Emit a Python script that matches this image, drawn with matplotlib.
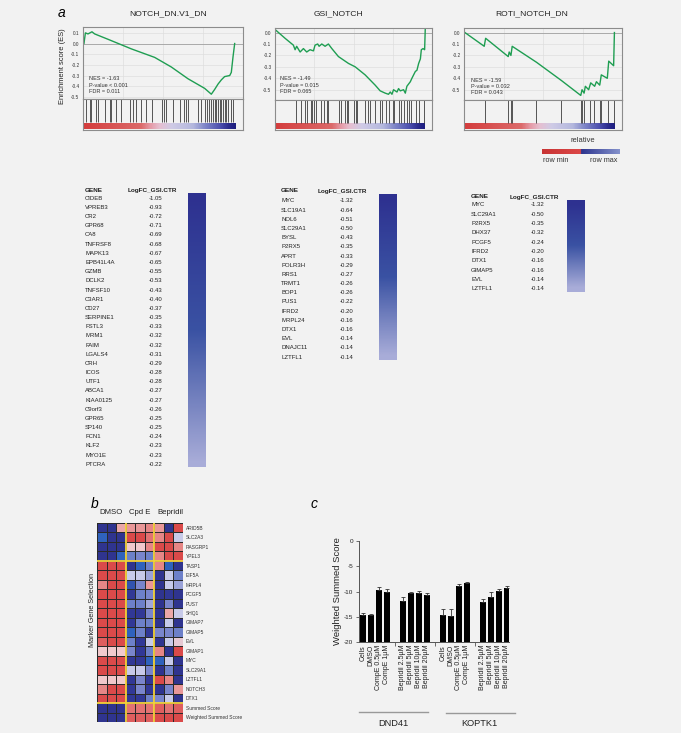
import numpy as np
import matplotlib
matplotlib.use('Agg')
import matplotlib.pyplot as plt
from matplotlib.colors import LinearSegmentedColormap
from matplotlib.lines import Line2D

plt.rcParams['font.family'] = ['Liberation Sans', 'DejaVu Sans']

W, H = 681, 733
BG = '#f2f2f2'

# ---------------- data: panel a (GSEA) ----------------
gsea_titles = ['NOTCH_DN.V1_DN', 'GSI_NOTCH', 'ROTI_NOTCH_DN']
gsea_stats1 = ['NES = -1.63', 'P-value < 0.001', 'FDR = 0.011']
gsea_stats2 = ['NES = -1.49', 'P-value = 0.015', 'FDR = 0.065']
gsea_stats3 = ['NES = -1.59', 'P-value = 0.032', 'FDR = 0.043']

# running enrichment score (x = % of ranked list, y = ES)
es1_x = [0.6, 1.5, 3.1, 5.6, 7.3, 15.6, 30.2, 44.8, 55.2, 65.6, 76.0, 80.2,
         82.3, 84.4, 86.5, 88.5, 91.7, 92.7, 93.8, 94.8]
es1_y = [0.0, 0.10, 0.09, 0.11, 0.09, 0.04, -0.05, -0.13, -0.22, -0.33, -0.42, -0.475,
         -0.43, -0.38, -0.34, -0.31, -0.30, -0.27, -0.12, 0.0]
hits1 = [2.1, 4.2, 4.8, 8.3, 9.4, 13.5, 16.7, 17.7, 20.8, 23.5, 29.2, 31.3, 33.3, 36.0,
         39.6, 43.1, 49.4, 50.6, 52.1, 56.3, 60.4, 63.1, 64.6, 65.6, 71.9, 74.0, 76.0,
         77.7, 78.5, 79.8, 81.3, 82.3, 83.3, 84.4, 85.4, 86.5, 87.5, 88.5, 89.6, 90.6,
         92.7, 93.8]

es2_x = [0.6, 6.4, 11.7, 12.8, 13.8, 16.0, 18.1, 20.2, 22.3, 24.5, 25.5, 27.2, 28.1,
         29.8, 31.9, 34.0, 36.2, 40.4, 43.6, 46.8, 51.1, 57.4, 63.8, 67.0, 70.2, 72.3,
         73.4, 74.5, 75.5, 77.7, 78.7, 79.8, 81.9, 83.0, 84.0, 86.2, 87.2, 88.3, 89.4,
         90.4, 91.5, 92.6, 93.2, 94.3, 95.3, 95.7]
es2_y = [0.02, -0.05, -0.11, -0.15, -0.12, -0.17, -0.14, -0.17, -0.15, -0.16, -0.11,
         -0.10, -0.12, -0.10, -0.12, -0.10, -0.14, -0.21, -0.24, -0.27, -0.30, -0.37,
         -0.46, -0.51, -0.53, -0.54, -0.52, -0.54, -0.50, -0.52, -0.49, -0.51, -0.50,
         -0.53, -0.47, -0.43, -0.40, -0.37, -0.34, -0.33, -0.27, -0.23, -0.15, -0.14,
         -0.15, 0.03]
hits2 = [13.4, 16.4, 19.1, 20.2, 23.0, 23.8, 24.9, 26.0, 29.4, 30.9, 33.0, 34.0, 40.9,
         42.1, 44.7, 45.7, 46.4, 50.6, 51.5, 52.1, 57.4, 59.1, 60.2, 63.8, 67.0, 68.1,
         70.6, 72.8, 74.9, 75.5, 78.7, 80.4, 81.9, 84.0, 85.1, 86.8, 89.8, 91.5, 94.7]

es3_x = [0.6, 12.8, 13.7, 28.0, 28.6, 29.7, 30.5, 45.9, 61.7, 73.9, 74.7, 76.0, 76.8,
         78.9, 80.2, 82.7, 83.8, 85.9, 86.9, 90.7, 91.6, 94.7, 95.2]
es3_y = [0.0, -0.12, -0.05, -0.21, -0.17, -0.20, -0.12, -0.26, -0.42, -0.55, -0.50,
         -0.53, -0.47, -0.50, -0.44, -0.47, -0.43, -0.46, -0.37, -0.40, -0.25, -0.29, 0.0]
hits3 = [13.3, 28.0, 29.7, 30.5, 45.5, 61.7, 73.9, 74.7, 76.0, 79.6, 82.3, 85.9, 86.9,
         91.2, 94.7]

# ---------------- data: panel a (gene tables) ----------------
genes1 = ['CIDEB', 'VPREB3', 'CR2', 'GPR68', 'CA8', 'TNFRSF8', 'MAPK13', 'EPB41L4A',
          'GZMB', 'DCLK2', 'TNFSF10', 'C3AR1', 'CD27', 'SERPINE1', 'FSTL3', 'MRM1',
          'FAIM', 'LGALS4', 'CRH', 'ICOS', 'UTF1', 'ABCA1', 'KIAA0125', 'C9orf3',
          'GPR65', 'SP140', 'FCN1', 'KLF2', 'MYO1E', 'PTCRA']
logfc1 = [-1.05, -0.93, -0.72, -0.71, -0.69, -0.68, -0.67, -0.65, -0.55, -0.53, -0.43,
          -0.40, -0.37, -0.35, -0.33, -0.32, -0.32, -0.31, -0.29, -0.28, -0.28, -0.27,
          -0.27, -0.26, -0.25, -0.25, -0.24, -0.23, -0.23, -0.22]
genes2 = ['MYC', 'SLC19A1', 'NOL6', 'SLC29A1', 'BYSL', 'P2RX5', 'APRT', 'POLR3H', 'RRS1',
          'TRMT1', 'BOP1', 'PUS1', 'IFRD2', 'MRPL24', 'DTX1', 'EVL', 'DNAJC11', 'LZTFL1']
logfc2 = [-1.32, -0.64, -0.51, -0.50, -0.43, -0.35, -0.33, -0.29, -0.27, -0.26, -0.26,
          -0.22, -0.20, -0.16, -0.16, -0.14, -0.14, -0.14]
genes3 = ['MYC', 'SLC29A1', 'P2RX5', 'DHX37', 'PCGF5', 'IFRD2', 'DTX1', 'GIMAP5', 'EVL',
          'LZTFL1']
logfc3 = [-1.32, -0.50, -0.35, -0.32, -0.24, -0.20, -0.16, -0.16, -0.14, -0.14]

# ---------------- data: panel b (heatmap, 0 = row min/red, 1 = row max/blue) ----------------
heat_groups = ['DMSO', 'Cpd E', 'Bepridil']
heat_genes = ['ARID5B', 'SLC2A3', 'RASGRP1', 'YPEL3', 'TASP1', 'EIF5A', 'MRPL4', 'PCGF5',
              'PUS7', 'SHQ1', 'GIMAP7', 'GIMAP5', 'EVL', 'GIMAP1', 'MYC', 'SLC29A1',
              'LZTFL1', 'NOTCH3', 'DTX1', 'Summed Score', 'Weighted Summed Score']
heat_rows = [
    [0.95, 0.95, 0.30, 0.25, 0.25, 0.20, 0.25, 0.95, 0.05],
    [0.82, 0.95, 0.95, 0.05, 0.05, 0.15, 0.20, 0.05, 0.60],
    [0.95, 0.95, 0.95, 0.40, 0.40, 0.20, 0.05, 0.05, 0.20],
    [0.95, 0.95, 0.82, 0.72, 0.70, 0.72, 0.20, 0.05, 0.05],
    [0.05, 0.05, 0.05, 0.95, 0.82, 0.72, 0.20, 0.82, 0.95],
    [0.05, 0.05, 0.05, 0.60, 0.60, 0.66, 0.95, 0.60, 0.72],
    [0.20, 0.05, 0.05, 0.85, 0.70, 0.25, 0.95, 0.60, 0.66],
    [0.05, 0.05, 0.05, 0.92, 0.72, 0.70, 0.95, 0.92, 0.95],
    [0.05, 0.05, 0.05, 0.72, 0.72, 0.65, 0.95, 0.70, 0.95],
    [0.05, 0.05, 0.05, 0.92, 0.92, 0.70, 0.95, 0.30, 0.60],
    [0.05, 0.05, 0.05, 0.92, 0.72, 0.72, 0.95, 0.60, 0.95],
    [0.05, 0.05, 0.05, 0.82, 0.72, 0.92, 0.70, 0.70, 0.72],
    [0.10, 0.05, 0.05, 0.72, 0.92, 0.60, 0.95, 0.60, 0.45],
    [0.40, 0.40, 0.40, 0.70, 0.92, 0.72, 0.20, 0.95, 0.05],
    [0.05, 0.05, 0.05, 0.92, 0.92, 0.82, 0.82, 0.60, 0.95],
    [0.05, 0.05, 0.05, 0.60, 0.60, 0.70, 0.95, 0.72, 0.95],
    [0.40, 0.40, 0.40, 0.92, 0.70, 0.92, 0.05, 0.20, 0.95],
    [0.20, 0.05, 0.05, 0.92, 0.70, 0.92, 0.95, 0.70, 0.25],
    [0.05, 0.05, 0.05, 0.92, 0.92, 0.72, 0.70, 0.60, 0.95],
    [0.95, 0.95, 0.95, 0.15, 0.15, 0.15, 0.10, 0.15, 0.10],
    [0.95, 0.95, 0.95, 0.10, 0.10, 0.10, 0.05, 0.05, 0.05],
]

# ---------------- data: panel c (bars) ----------------
bar_labels = ['Cells', 'DMSO', 'CompE 0.5\u00b5M', 'CompE 1\u00b5M',
              'Bepridil 2.5\u00b5M', 'Bepridil 5\u00b5M', 'Bepridil 10\u00b5M', 'Bepridil 20\u00b5M']
cell_lines = ['DND41', 'KOPTK1']
dnd41_vals = [-14.7, -14.6, -9.7, -10.0, -11.8, -10.2, -10.2, -10.65]
dnd41_err = [0.45, 0.2, 0.5, 0.4, 0.65, 0.2, 0.3, 0.45]
koptk1_vals = [-14.7, -14.8, -9.0, -8.4, -12.15, -11.0, -9.95, -9.25]
koptk1_err = [1.2, 1.3, 0.45, 0.2, 0.6, 1.0, 0.4, 0.25]

# ---------------- helpers ----------------
fig = plt.figure(figsize=(W / 100, H / 100), dpi=100, facecolor=BG)


def rect(x0, y0, x1, y1):
    return [x0 / W, 1 - y1 / H, (x1 - x0) / W, (y1 - y0) / H]


def ftext(x, y, s, **kw):
    kw.setdefault('va', 'center')
    fig.text(x / W, 1 - y / H, s, **kw)


rank_cmap = LinearSegmentedColormap.from_list('rank', [
    (0.0, '#d43c3c'), (0.38, '#dc6a6a'), (0.44, '#e59aa6'), (0.50, '#e6bfd0'),
    (0.58, '#cfcbe6'), (0.72, '#b4b8de'), (0.80, '#7f86c8'), (0.90, '#4c4fae'),
    (0.96, '#2a2a8c'), (1.0, '#1e1e80')])
heat_cmap = LinearSegmentedColormap.from_list('heat', [
    (0.0, '#d63838'), (0.2, '#e68686'), (0.4, '#f1c9cc'), (0.6, '#c7cae9'),
    (0.7, '#7a86cc'), (0.82, '#2f62bd'), (0.9, '#333a9a'), (1.0, '#2c2f86')])
strip_cmap = LinearSegmentedColormap.from_list('strip', ['#2e3190', '#3a52a3', '#a8acd8'])
rel_cmap = LinearSegmentedColormap.from_list('rel', [
    (0.0, '#c83434'), (0.5, '#dc4848'), (0.501, '#2c348e'), (1.0, '#8592cc')])


def gsea(x0, y0, ysplit, y1, x1, ylim, xs, ys, hits, title, title_x, stats, stats_x, stats_y):
    ax = fig.add_axes(rect(x0, y0, x1, ysplit))
    ax.set_facecolor(BG)
    ax.set_axisbelow(True)
    ax.grid(True, color='#dedede', lw=0.5)
    ax.axhline(0, color='#a0a0a0', lw=0.6)
    ax.plot(xs, ys, color='#1f9e52', lw=1.0)
    ax.set_xlim(0, 100)
    ax.set_ylim(*ylim)
    yt = [0.1, 0.0, -0.1, -0.2, -0.3, -0.4, -0.5]
    yt = [t for t in yt if ylim[0] <= t <= ylim[1]]
    ax.set_yticks(yt)
    ax.set_yticklabels([f'{t:.1f}' for t in yt], fontsize=3.4, color='#333333')
    ax.set_xticks([25, 50, 75])
    ax.set_xticklabels([])
    ax.tick_params(length=0, pad=2.5)
    for sp in ax.spines.values():
        sp.set_color('#8c8c8c')
        sp.set_linewidth(0.8)
    hx = fig.add_axes(rect(x0, ysplit, x1, y1))
    hx.set_facecolor(BG)
    hx.imshow(np.linspace(0, 1, 300)[None, :], cmap=rank_cmap, aspect='auto',
              extent=(0, 95.5, 0.03, 0.22))
    hx.vlines(hits, 0.25, 1.0, color='#3c3c3c', lw=0.6)
    hx.set_xlim(0, 100)
    hx.set_ylim(0, 1)
    hx.set_xticks([])
    hx.set_yticks([])
    for sp in hx.spines.values():
        sp.set_color('#8c8c8c')
        sp.set_linewidth(0.8)
    ftext(title_x, 14, title, fontsize=6.1, ha='center', color='#222222')
    for i, s in enumerate(stats):
        ftext(stats_x, stats_y + i * 6.3, s, fontsize=4.0, ha='left', color='#333333')


gsea(83, 27, 99, 130, 243, (-0.52, 0.155), es1_x, es1_y, hits1, gsea_titles[0], 168,
     gsea_stats1, 89, 79)
gsea(275, 28, 100, 130, 432, (-0.59, 0.04), es2_x, es2_y, hits2, gsea_titles[1], 338,
     gsea_stats2, 280, 79)
gsea(464, 28, 100, 130, 622, (-0.59, 0.04), es3_x, es3_y, hits3, gsea_titles[2], 532,
     gsea_stats3, 471, 80)

ftext(62, 13, 'a', fontsize=10, style='italic', ha='center')
ftext(62, 66, 'Enrichment score (ES)', fontsize=5.4, rotation=90, ha='center', color='#222222')

# relative legend
ftext(583, 140, 'relative', fontsize=5.4, ha='center', color='#333333')
lx = fig.add_axes(rect(542, 149, 620, 154))
lx.imshow(np.linspace(0, 1, 200)[None, :], cmap=rel_cmap, aspect='auto')
lx.axis('off')
ftext(556, 160, 'row min', fontsize=5.2, ha='center', color='#333333')
ftext(604, 160, 'row max', fontsize=5.2, ha='center', color='#333333')


# gene tables
def gene_table(gx, hdr_y, fc_x, val_x, row0, step, genes, vals, strip):
    ftext(gx, hdr_y, 'GENE', fontsize=4.6, fontweight='bold', ha='left', color='#222222')
    ftext(fc_x, hdr_y, 'LogFC_GSI.CTR', fontsize=4.6, fontweight='bold', ha='left',
          color='#222222')
    for i, (g, v) in enumerate(zip(genes, vals)):
        ftext(gx, row0 + i * step, g, fontsize=4.3, ha='left', color='#222222')
        ftext(val_x, row0 + i * step, f'{v:.2f}', fontsize=4.3, ha='right', color='#222222')
    sx = fig.add_axes(rect(*strip))
    sx.imshow(np.arange(len(vals))[:, None], cmap=strip_cmap, aspect='auto',
              interpolation='bilinear')
    sx.axis('off')


gene_table(85, 190, 128, 162, 198.3, 9.17, genes1, logfc1, (188, 193, 206, 467))
gene_table(281, 191, 318, 353, 201, 9.18, genes2, logfc2, (379, 194, 397, 360))
gene_table(471, 197, 510, 544, 205, 9.3, genes3, logfc3, (567, 200, 585, 292))

# ---------------- panel b ----------------
ftext(95, 504, 'b', fontsize=10, style='italic', ha='center')
for gname, cx in zip(heat_groups, [111, 140, 170]):
    ftext(cx, 512, gname, fontsize=5.6, ha='center', color='#222222')
ftext(92, 610, 'Marker Gene Selection', fontsize=5.2, rotation=90, ha='center',
      color='#222222')

hm = np.array(heat_rows)
hax = fig.add_axes(rect(97, 523, 183, 722))
hax.pcolormesh(hm, cmap=heat_cmap, vmin=0, vmax=1, edgecolors='#2a2a2a', linewidth=0.4)
hax.set_xlim(0, hm.shape[1])
hax.set_ylim(hm.shape[0], 0)
for xv in (3, 6):
    hax.axvline(xv, color='#f3d23a', lw=1.3)
for yv in (4, 19):
    hax.axhline(yv, color='#f3d23a', lw=1.3)
hax.yaxis.tick_right()
hax.set_yticks(np.arange(hm.shape[0]) + 0.5)
hax.set_yticklabels(heat_genes, fontsize=3.5, color='#333333')
hax.set_xticks([])
hax.tick_params(length=0, pad=2)
for sp in hax.spines.values():
    sp.set_visible(False)

# ---------------- panel c ----------------
ftext(314, 504, 'c', fontsize=10, style='italic', ha='center')
pos = [0, 1, 2, 3, 5, 6, 7, 8, 10, 11, 12, 13, 15, 16, 17, 18]
vals = np.array(dnd41_vals + koptk1_vals)
errs = np.array(dnd41_err + koptk1_err)
cax = fig.add_axes(rect(359, 541, 509, 642))
cax.set_facecolor(BG)
cax.bar(pos, vals + 20, bottom=-20, width=0.7, color='black',
        yerr=[np.zeros_like(errs), errs],
        error_kw=dict(ecolor='#333333', elinewidth=0.6, capsize=1.3, capthick=0.6))
cax.set_xlim(-0.5, 18.25)
cax.set_ylim(-20, 0)
cax.set_yticks([0, -5, -10, -15, -20])
cax.set_yticklabels(['0', '-5', '-10', '-15', '-20'], fontsize=4.6, color='#222222')
cax.set_xticks(pos)
cax.set_xticklabels(bar_labels * 2, rotation=90, fontsize=5.0, color='#222222')
cax.tick_params(axis='x', length=0, pad=2)
cax.tick_params(axis='y', length=2.5, width=0.6, pad=1.5, color='#555555')
cax.set_xticks([4, 9, 14], minor=True)
cax.tick_params(axis='x', which='minor', length=3, width=0.6, color='#555555')
for s in ('top', 'right'):
    cax.spines[s].set_visible(False)
for s in ('left', 'bottom'):
    cax.spines[s].set_color('#555555')
    cax.spines[s].set_linewidth(0.7)
ftext(337, 591, 'Weighted Summed Score', fontsize=6.8, rotation=90, ha='center',
      color='#222222')

for name, (lx0, lx1), ly, tx in zip(cell_lines, [(359, 428), (446, 515)], [712, 713],
                                     [393, 479]):
    fig.add_artist(Line2D([lx0 / W, lx1 / W], [1 - ly / H, 1 - ly / H], color='#999999',
                          lw=1.0, transform=fig.transFigure))
    ftext(tx, 723, name, fontsize=6.7, ha='center', color='#222222')

fig.savefig('out.png', dpi=100, facecolor=BG)
